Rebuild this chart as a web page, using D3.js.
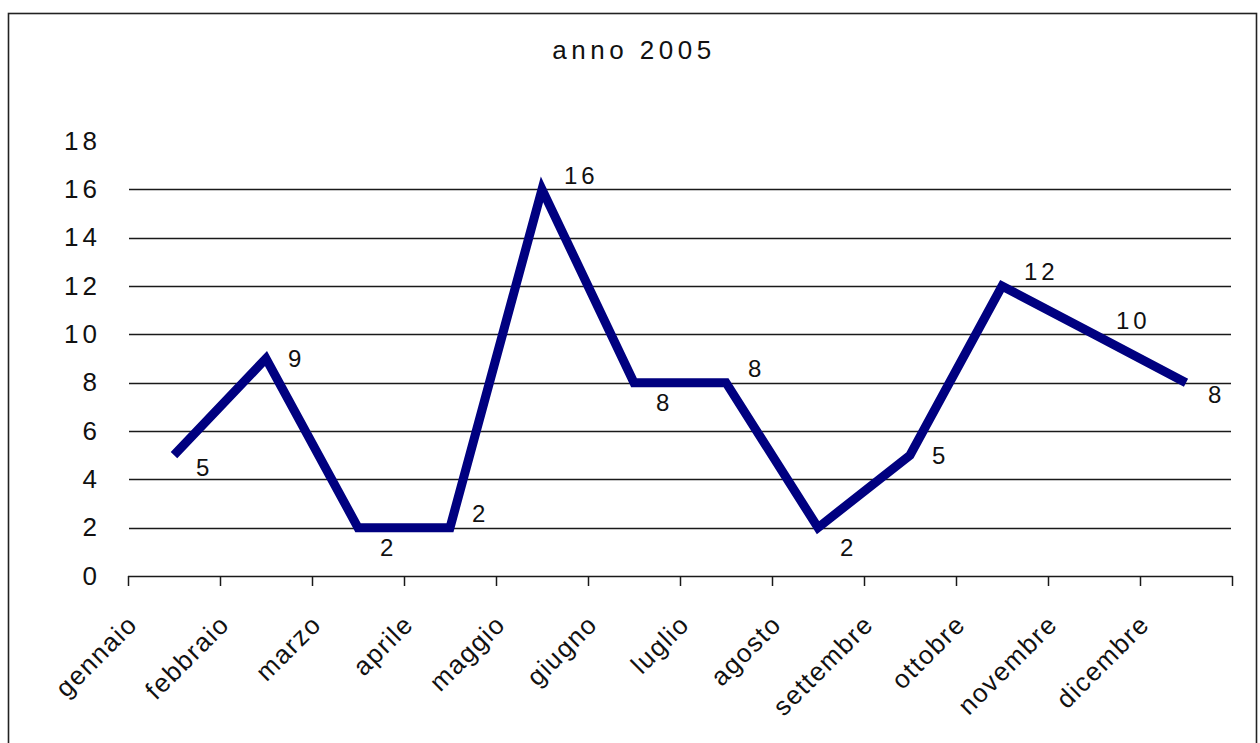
<!DOCTYPE html>
<html>
<head>
<meta charset="utf-8">
<script src="https://cdn.jsdelivr.net/npm/d3@7"></script>
<style>
  html, body { margin: 0; padding: 0; background: #fff; }
  svg { display: block; }
  text { font-family: "Liberation Sans", Arial, sans-serif; fill: #111; }
</style>
</head>
<body>
<svg id="chart" width="1260" height="743"></svg>
<script>
// Monthly counts for 2005
const months = ["gennaio", "febbraio", "marzo", "aprile", "maggio", "giugno",
                "luglio", "agosto", "settembre", "ottobre", "novembre", "dicembre"];
const values = [5, 9, 2, 2, 16, 8, 8, 2, 5, 12, 10, 8];
const yTicks = [0, 2, 4, 6, 8, 10, 12, 14, 16, 18];
const chartTitle = "anno 2005";
// where each value label sits relative to its point
const labelPlacement = ["lowright", "right", "below", "above", "above", "below",
                        "above", "below", "right", "above", "above", "lowright"];

const svg = d3.select("#chart");

// outer frame
svg.append("rect")
  .attr("x", 8.5).attr("y", 13.5)
  .attr("width", 1248).attr("height", 760)
  .attr("fill", "none").attr("stroke", "#222").attr("stroke-width", 1.6);

const plotLeft = 128, plotRight = 1232, plotTop = 141, plotBottom = 576;

const x = d3.scaleBand().domain(months).range([plotLeft, plotRight]).padding(0);
const y = d3.scaleLinear().domain([0, 18]).range([plotBottom, plotTop]);

// title
svg.append("text")
  .attr("x", 634).attr("y", 59)
  .attr("text-anchor", "middle")
  .style("font-size", "26px")
  .style("letter-spacing", "4.5px")
  .text(chartTitle);

// horizontal gridlines
svg.append("g").selectAll("line")
  .data(yTicks.filter(d => d > 0 && d < 18))
  .join("line")
  .attr("x1", plotLeft + 1).attr("x2", plotRight - 1)
  .attr("y1", d => Math.round(y(d)) + 0.5).attr("y2", d => Math.round(y(d)) + 0.5)
  .attr("stroke", "#1a1a1a").attr("stroke-width", 1.5);

// y axis labels (no axis line)
const yAxis = d3.axisLeft(y).tickValues(yTicks).tickSize(0).tickPadding(27);
const gy = svg.append("g").attr("transform", `translate(${plotLeft},0)`).call(yAxis);
gy.select(".domain").remove();
gy.selectAll("text")
  .style("font-size", "26px")
  .style("letter-spacing", "4px")
  .style("font-family", "\"Liberation Sans\", Arial, sans-serif")
  .attr("fill", "#111");

// x axis: ticks on category boundaries
const boundaries = months.map(m => x(m)).concat([plotRight]);
const gx = svg.append("g");
gx.append("line")
  .attr("x1", plotLeft).attr("x2", plotRight + 0.5)
  .attr("y1", plotBottom + 0.5).attr("y2", plotBottom + 0.5)
  .attr("stroke", "#1a1a1a").attr("stroke-width", 1.5);
gx.selectAll("line.tick")
  .data(boundaries)
  .join("line")
  .attr("class", "tick")
  .attr("x1", d => Math.round(d) + 0.5).attr("x2", d => Math.round(d) + 0.5)
  .attr("y1", plotBottom).attr("y2", plotBottom + 10)
  .attr("stroke", "#1a1a1a").attr("stroke-width", 1.5);

// rotated month labels, ending at each left boundary
gx.selectAll("text")
  .data(months)
  .join("text")
  .attr("transform", d => `translate(${x(d) + 11},${plotBottom + 50}) rotate(-45)`)
  .attr("text-anchor", "end")
  .style("font-size", "26px")
  .style("letter-spacing", "1.5px")
  .text(d => d);

// data line
const line = d3.line()
  .x((d, i) => x(months[i]) + x.bandwidth() / 2)
  .y(d => y(d));

svg.append("path")
  .datum(values)
  .attr("d", line)
  .attr("fill", "none")
  .attr("stroke", "#000080")
  .attr("stroke-width", 9)
  .attr("stroke-linejoin", "miter")
  .attr("stroke-miterlimit", 3);

// value labels
const placeDy = { above: -14, below: 20, right: 0, lowright: 12 };
svg.append("g").selectAll("text")
  .data(values)
  .join("text")
  .attr("x", (d, i) => x(months[i]) + x.bandwidth() / 2 + 22)
  .attr("y", (d, i) => y(d) + placeDy[labelPlacement[i]])
  .attr("dy", "0.35em")
  .style("font-size", "24px")
  .style("letter-spacing", "4px")
  .text(d => d);
</script>
</body>
</html>
